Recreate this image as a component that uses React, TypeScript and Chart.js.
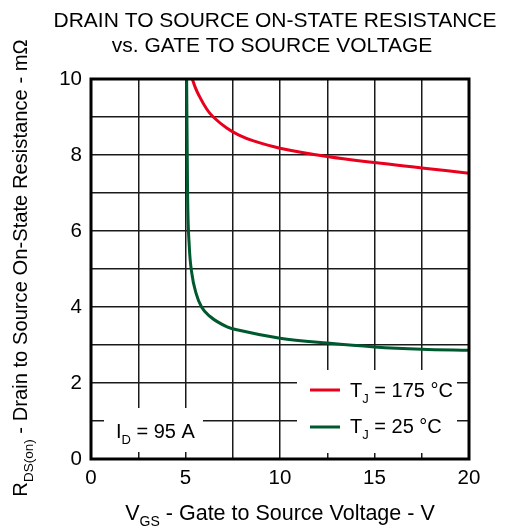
import React, { useEffect, useRef } from "react";
import { Chart, registerables } from "chart.js";

Chart.register(...registerables);

// Data
const redX = [5.36, 5.5, 5.68, 6.12, 6.47, 7.18, 7.8, 8.6, 10, 12.5, 15, 17.5, 20];
const redY = [10, 9.8, 9.6, 9.21, 9.0, 8.71, 8.53, 8.37, 8.18, 7.96, 7.8, 7.66, 7.52];
const greenX = [5.06, 5.11, 5.2, 5.33, 5.56, 5.85, 6.3, 7.2, 7.9, 10, 12.5, 15, 17.5, 20];
const greenY = [10, 7.0, 5.6, 4.9, 4.36, 4.0, 3.75, 3.48, 3.38, 3.18, 3.05, 2.95, 2.89, 2.86];
const xTickLabels = ["0", "5", "10", "15", "20"];
const yTickLabels = ["0", "2", "4", "6", "8", "10"];
const seriesNames = ["175", "25"];

const FONT = '"Liberation Sans", Arial, Helvetica, sans-serif';
const RED = "#e8001c";
const GREEN = "#00592e";

type Seg = { t: string; sub?: boolean };

function drawRich(
  ctx: CanvasRenderingContext2D,
  segs: Seg[],
  x: number,
  y: number,
  align: "left" | "center",
  size = 20,
  subSize = 13,
  subDrop = 6
) {
  ctx.save();
  ctx.textBaseline = "alphabetic";
  ctx.textAlign = "left";
  ctx.fillStyle = "#000";
  const widths = segs.map((s) => {
    ctx.font = `${s.sub ? subSize : size}px ${FONT}`;
    return ctx.measureText(s.t).width;
  });
  const total = widths.reduce((a, b) => a + b, 0);
  let cx = align === "center" ? x - total / 2 : x;
  segs.forEach((s, i) => {
    ctx.font = `${s.sub ? subSize : size}px ${FONT}`;
    ctx.fillText(s.t, cx, y + (s.sub ? subDrop : 0));
    cx += widths[i];
  });
  ctx.restore();
}

const decorPlugin = {
  id: "decor",
  beforeDatasetsDraw(chart: any) {
    const ctx = chart.ctx as CanvasRenderingContext2D;
    ctx.save();
    ctx.fillStyle = "#fff";
    ctx.fillRect(297, 370, 160, 83);
    ctx.fillRect(104, 408, 99, 44);
    ctx.restore();
  },
  afterDatasetsDraw(chart: any) {
    const ctx = chart.ctx as CanvasRenderingContext2D;
    const a = chart.chartArea;
    ctx.save();
    ctx.strokeStyle = "#000";
    ctx.lineWidth = 3;
    ctx.strokeRect(a.left, a.top, a.right - a.left, a.bottom - a.top);
    ctx.restore();
  },
  afterDraw(chart: any) {
    const ctx = chart.ctx as CanvasRenderingContext2D;
    drawRich(ctx, [{ t: "DRAIN TO SOURCE ON-STATE RESISTANCE" }], 275, 26.5, "center", 21);
    drawRich(ctx, [{ t: "vs. GATE TO SOURCE VOLTAGE" }], 272, 51.5, "center", 21);
    drawRich(
      ctx,
      [{ t: "V" }, { t: "GS", sub: true }, { t: " - Gate to Source Voltage - V" }],
      280,
      520,
      "center",
      21.5,
      14,
      6
    );
    ctx.save();
    ctx.translate(26.5, 268);
    ctx.rotate(-Math.PI / 2);
    drawRich(
      ctx,
      [{ t: "R" }, { t: "DS(on)", sub: true }, { t: " - Drain to Source On-State Resistance - m\u03A9" }],
      0,
      0,
      "center",
      20.2,
      13.5,
      6
    );
    ctx.restore();
    const rows = [
      { color: RED, y: 390, base: 397, name: seriesNames[0] },
      { color: GREEN, y: 427, base: 433, name: seriesNames[1] },
    ];
    rows.forEach((r) => {
      ctx.save();
      ctx.strokeStyle = r.color;
      ctx.lineWidth = 3;
      ctx.beginPath();
      ctx.moveTo(310, r.y);
      ctx.lineTo(340, r.y);
      ctx.stroke();
      ctx.restore();
      drawRich(ctx, [{ t: "T" }, { t: "J", sub: true }, { t: ` = ${r.name} \u00B0C` }], 350, r.base, "left");
    });
    drawRich(ctx, [{ t: "I" }, { t: "D", sub: true }, { t: " = 95 A" }], 116, 438, "left");
  },
};

export default function App() {
  const ref = useRef<HTMLCanvasElement | null>(null);
  useEffect(() => {
    if (!ref.current) return;
    const chart = new Chart(ref.current, {
      type: "line",
      data: {
        datasets: [
          {
            label: "TJ = 175 °C",
            data: redX.map((x, i) => ({ x, y: redY[i] })),
            borderColor: RED,
            backgroundColor: RED,
            borderWidth: 3,
            pointRadius: 0,
            fill: false,
            tension: 0.4,
          },
          {
            label: "TJ = 25 °C",
            data: greenX.map((x, i) => ({ x, y: greenY[i] })),
            borderColor: GREEN,
            backgroundColor: GREEN,
            borderWidth: 3,
            pointRadius: 0,
            fill: false,
            cubicInterpolationMode: "monotone",
          },
        ],
      },
      options: {
        animation: false,
        responsive: false,
        devicePixelRatio: 1,
        layout: { padding: { left: 0, top: 79, right: 40, bottom: 0 } },
        plugins: { legend: { display: false }, title: { display: false }, tooltip: { enabled: false } },
        scales: {
          x: {
            type: "linear",
            min: 0,
            max: 20,
            afterFit: (s: any) => {
              s.height = 70;
            },
            ticks: {
              stepSize: 2.5,
              autoSkip: false,
              maxRotation: 0,
              padding: 7,
              color: "#000",
              font: { family: FONT, size: 20.5 },
              callback: (v: any) => {
                const s = String(v);
                return xTickLabels.includes(s) ? s : "";
              },
            },
            grid: { color: "#1a1a1a", lineWidth: 1.5, drawTicks: false },
            border: { display: false },
          },
          y: {
            type: "linear",
            min: 0,
            max: 10,
            afterFit: (s: any) => {
              s.width = 91;
            },
            ticks: {
              stepSize: 1,
              autoSkip: false,
              padding: 9,
              color: "#000",
              font: { family: FONT, size: 20.5 },
              callback: (v: any) => {
                const s = String(v);
                return yTickLabels.includes(s) ? s : "";
              },
            },
            grid: { color: "#1a1a1a", lineWidth: 1.5, drawTicks: false },
            border: { display: false },
          },
        },
      },
      plugins: [decorPlugin],
    } as any);
    return () => chart.destroy();
  }, []);
  return (
    <div style={{ position: "absolute", left: 0, top: 0, width: 509, height: 529, background: "#fff" }}>
      <canvas ref={ref} width={509} height={529} style={{ width: 509, height: 529, display: "block" }} />
    </div>
  );
}
